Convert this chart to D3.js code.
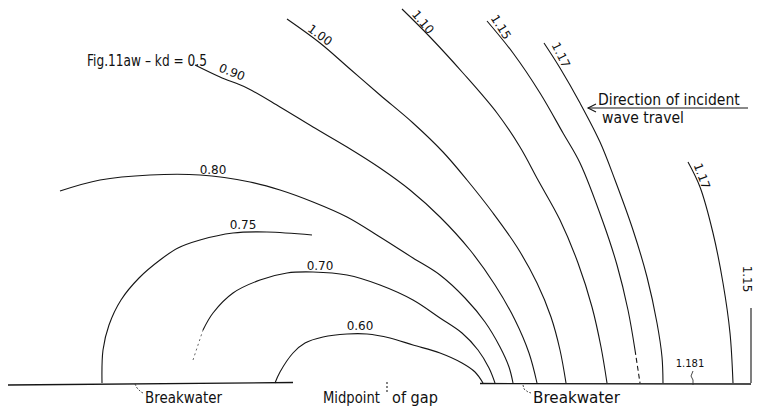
<!DOCTYPE html>
<html>
<head>
<meta charset="utf-8">
<script src="https://cdn.jsdelivr.net/npm/d3@7"></script>
<style>
  html, body { margin: 0; padding: 0; background: #fff; }
  svg { display: block; }
  text { font-family: "DejaVu Sans", sans-serif; fill: #111; }
</style>
</head>
<body>
<div id="wrapper"></div>
<script>
// x: distance from midpoint of gap, y: distance behind the breakwater line (same units)
const levels = ["0.60", "0.70", "0.75", "0.80", "0.90", "1.00", "1.10", "1.15", "1.17", "1.17", "1.15"]

const k060 = [[-1.11, 0], [-1.06, 0.11], [-0.93, 0.30], [-0.81, 0.40], [-0.63, 0.46], [-0.39, 0.49],
  [-0.19, 0.49], [0.04, 0.45], [0.27, 0.38], [0.54, 0.30], [0.76, 0.20], [0.89, 0.11], [0.97, 0]]
const k070 = [[-1.93, 0.23], [-1.83, 0.53], [-1.73, 0.70], [-1.53, 0.90], [-1.26, 1.03], [-0.99, 1.10],
  [-0.73, 1.11], [-0.39, 1.08], [-0.06, 0.98], [0.27, 0.83], [0.54, 0.65], [0.76, 0.50], [0.92, 0.33],
  [1.03, 0.15], [1.09, 0]]
const k075 = [[-2.84, 0], [-2.83, 0.33], [-2.77, 0.58], [-2.65, 0.83], [-2.47, 1.05], [-2.26, 1.23],
  [-2.08, 1.35], [-1.86, 1.43], [-1.53, 1.50], [-1.19, 1.51], [-0.74, 1.48]]
const k080 = [[-3.26, 1.92], [-2.86, 2.03], [-2.36, 2.08], [-1.86, 2.08], [-1.36, 2.01], [-1.06, 1.93],
  [-0.73, 1.81], [-0.39, 1.66], [-0.06, 1.46], [0.27, 1.25], [0.54, 1.08], [0.79, 0.85], [0.99, 0.61],
  [1.14, 0.36], [1.23, 0.16], [1.27, 0]]
const k090 = [[-1.91, 3.18], [-1.66, 3.06], [-1.39, 2.95], [-1.06, 2.76], [-0.73, 2.56], [-0.39, 2.36],
  [-0.06, 2.15], [0.24, 1.93], [0.54, 1.66], [0.84, 1.33], [1.09, 0.98], [1.29, 0.63], [1.43, 0.30], [1.51, 0]]
const k100 = [[-0.99, 3.64], [-0.66, 3.40], [-0.36, 3.14], [-0.06, 2.88], [0.27, 2.60], [0.57, 2.31],
  [0.81, 2.03], [1.07, 1.70], [1.31, 1.36], [1.51, 1.00], [1.65, 0.66], [1.74, 0.33], [1.80, 0]]
const k110 = [[0.16, 3.74], [0.44, 3.46], [0.77, 3.10], [1.11, 2.70], [1.34, 2.36], [1.52, 2.03],
  [1.74, 1.63], [1.92, 1.20], [2.06, 0.76], [2.15, 0.36], [2.21, 0]]
const k115 = [[1.01, 3.62], [1.27, 3.30], [1.54, 2.90], [1.77, 2.50], [1.94, 2.20], [2.17, 1.61],
  [2.31, 1.18], [2.42, 0.73], [2.49, 0.33], [2.54, 0]]
const k117 = [[1.58, 3.40], [1.74, 3.15], [1.94, 2.80], [2.14, 2.41], [2.29, 2.03], [2.47, 1.53],
  [2.61, 1.06], [2.71, 0.60], [2.76, 0.26], [2.77, 0]]
const k117b = [[3.02, 2.21], [3.14, 1.96], [3.27, 1.50], [3.37, 1.00], [3.44, 0.50], [3.47, 0]]
const k115b = [[3.65, 0.75], [3.65, 0]]

const leftBreakwater = [[-3.78, -0.02], [-0.93, 0.005]]
const rightBreakwater = [[0.94, -0.005], [3.65, -0.01]]
const maxPoint = [3.07, 0]
const maxLabel = "1.181"

const contours = [k060, k070, k075, k080, k090, k100, k110, k115, k117, k117b, k115b]

// label placement [x, y, rotation] and dashed ends [head, tail] points
const labelAt = [[-0.26, 0.57, 0], [-0.66, 1.17, 0], [-1.43, 1.58, 0], [-1.73, 2.13, 0], [-1.54, 3.11, 22],
  [-0.66, 3.48, 36], [0.37, 3.61, 50], [1.15, 3.56, 58], [1.75, 3.28, 64], [3.16, 2.07, 70], [3.61, 1.04, 90]]
const dashed = [[0, 0], [2, 0], [0, 0], [0, 0], [0, 0], [0, 0], [0, 0], [0, 2], [0, 0], [0, 0], [0, 0]]

let dimensions = { width: 757, height: 409, baseline: 383 }

const svg = d3.select("#wrapper")
  .append("svg")
    .attr("width", dimensions.width)
    .attr("height", dimensions.height)

const xScale = d3.scaleLinear()
    .domain([-3.86, 3.71])
    .range([0, dimensions.width])
const yScale = d3.scaleLinear()
    .domain([0, 3.83])
    .range([dimensions.baseline, 0])

const lineGenerator = d3.line()
  .x(d => xScale(d[0]))
  .y(d => yScale(d[1]))
  .curve(d3.curveCatmullRom.alpha(0.5))

const straight = d3.line()
  .x(d => xScale(d[0]))
  .y(d => yScale(d[1]))

const bounds = svg.append("g")

contours.forEach((pts, i) => {
  const [head, tail] = dashed[i]
  const solid = pts.slice(Math.max(head - 1, 0), pts.length - Math.max(tail - 1, 0))
  bounds.append("path")
      .attr("d", lineGenerator(solid))
      .attr("fill", "none")
      .attr("stroke", "#151515")
      .attr("stroke-width", 1.1)
  if (head) {
    bounds.append("path")
        .attr("d", lineGenerator(pts.slice(0, head)))
        .attr("fill", "none")
        .attr("stroke", "#555")
        .attr("stroke-width", 0.9)
        .attr("stroke-dasharray", "2,3")
  }
  if (tail) {
    bounds.append("path")
        .attr("d", lineGenerator(pts.slice(pts.length - tail)))
        .attr("fill", "none")
        .attr("stroke", "#151515")
        .attr("stroke-width", 1.1)
        .attr("stroke-dasharray", "5,3")
  }
  const [lx, ly, rot] = labelAt[i]
  bounds.append("text")
      .attr("transform", `translate(${xScale(lx)},${yScale(ly)}) rotate(${rot})`)
      .attr("text-anchor", "middle")
      .attr("dy", "0.35em")
      .attr("font-size", 12)
      .text(levels[i])
})

// breakwaters
;[leftBreakwater, rightBreakwater].forEach(b => {
  bounds.append("path")
      .attr("d", straight(b))
      .attr("stroke", "#151515")
      .attr("stroke-width", 1.3)
})

// maximum marker
bounds.append("text")
    .attr("x", xScale(maxPoint[0]) - 3)
    .attr("y", yScale(0.16))
    .attr("text-anchor", "middle")
    .attr("font-size", 10)
    .text(maxLabel)
bounds.append("path")
    .attr("d", straight([[maxPoint[0], 0.12], [maxPoint[0] - 0.02, 0.07], [maxPoint[0], 0.03], [maxPoint[0], -0.02]]))
    .attr("fill", "none")
    .attr("stroke", "#333")
    .attr("stroke-width", 0.9)

// text annotations, squeezed horizontally to the lettering width of the original
const note = (txt, x, y, len, size) => {
  const t = bounds.append("text")
      .attr("font-size", size)
      .text(txt)
  const natural = t.node().getComputedTextLength()
  t.attr("transform", `translate(${xScale(x)},${yScale(y)}) scale(${len / natural},1)`)
}

note("Fig.11aw \u2013 kd = 0.5", -2.99, 3.17, 120, 16)
note("Direction  of  incident", 2.12, 2.78, 142, 16)
note("wave   travel", 2.16, 2.60, 82, 16)
note("Breakwater", -2.41, -0.20, 77, 16)
note("Midpoint", -0.63, -0.20, 57, 16)
note("of  gap", 0.06, -0.20, 46, 16)
note("Breakwater", 1.47, -0.20, 87, 16)

// arrow for incident wave direction
bounds.append("path")
    .attr("d", straight([[3.62, 2.75], [2.02, 2.75]]))
    .attr("stroke", "#151515")
    .attr("stroke-width", 1.2)
bounds.append("path")
    .attr("d", straight([[2.10, 2.79], [2.02, 2.75], [2.10, 2.71]]))
    .attr("fill", "none")
    .attr("stroke", "#151515")
    .attr("stroke-width", 1.1)

// leaders and centre-line mark
const leaders = [
  [[-2.51, -0.01], [-2.49, -0.05], [-2.45, -0.09], [-2.43, -0.10]],
  [[1.37, -0.02], [1.38, -0.06], [1.42, -0.09], [1.45, -0.10]]
]
leaders.forEach(l => {
  bounds.append("path")
      .attr("d", straight(l))
      .attr("fill", "none")
      .attr("stroke", "#333")
      .attr("stroke-width", 0.9)
      .attr("stroke-dasharray", "2,1.5")
})
bounds.append("path")
    .attr("d", straight([[0.01, 0.01], [0.01, -0.10]]))
    .attr("stroke", "#333")
    .attr("stroke-width", 1.2)
    .attr("stroke-dasharray", "2,2")
</script>
</body>
</html>
